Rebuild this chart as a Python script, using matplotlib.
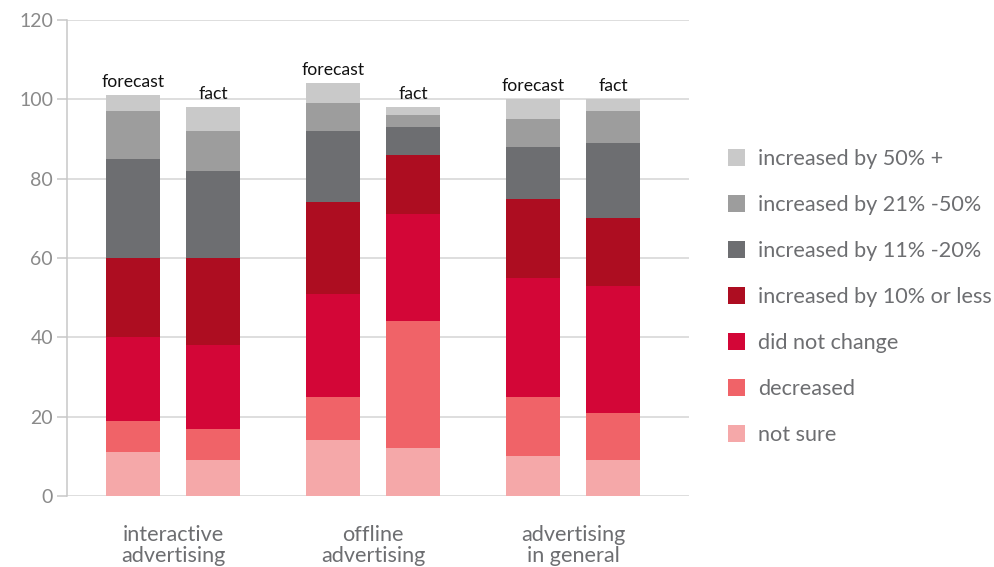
import matplotlib
matplotlib.use("Agg")
import matplotlib.pyplot as plt
from matplotlib.patches import Patch
import numpy as np

plt.rcParams['font.family'] = ['Lato', 'DejaVu Sans']

groups = ["interactive\nadvertising", "offline\nadvertising", "advertising\nin general"]
bar_labels = ["forecast", "fact"]

# stack order, bottom to top
series_names = [
    "not sure",
    "decreased",
    "did not change",
    "increased by 10% or less",
    "increased by 11% -20%",
    "increased by 21% -50%",
    "increased by 50% +",
]
series_colors = ["#f5a8a9", "#f06368", "#d30637", "#ad0d21", "#6d6e71", "#9d9d9d", "#c9c9c9"]

# values per bar: interactive forecast, interactive fact, offline forecast,
# offline fact, general forecast, general fact
not_sure       = [11, 9, 14, 12, 10, 9]
decreased      = [8, 8, 11, 32, 15, 12]
no_change      = [21, 21, 26, 27, 30, 32]
up_10_or_less  = [20, 22, 23, 15, 20, 17]
up_11_20       = [25, 22, 18, 7, 13, 19]
up_21_50       = [12, 10, 7, 3, 7, 8]
up_50_plus     = [4, 6, 5, 2, 5, 3]

series_values = [not_sure, decreased, no_change, up_10_or_less,
                 up_11_20, up_21_50, up_50_plus]

fig = plt.figure(figsize=(9.95, 5.67), dpi=100)
ax = fig.add_axes([67/995, 1 - 496/567, (689 - 67)/995, (496 - 20)/567])

offset = 0.2
width = 0.27
xpos = []
for g in range(len(groups)):
    xpos += [g - offset, g + offset]
xpos = np.array(xpos)

bottom = np.zeros(len(xpos))
for name, vals, col in zip(series_names, series_values, series_colors):
    v = np.array(vals, dtype=float)
    ax.bar(xpos, v, width=width, bottom=bottom, color=col, label=name,
           linewidth=0, zorder=3)
    bottom += v

for i, (x, top) in enumerate(zip(xpos, bottom)):
    ax.annotate(bar_labels[i % 2], (x, top), xytext=(0, 4),
                textcoords="offset points", ha="center", va="bottom",
                fontsize=12.7, color="#111111")

ax.set_ylim(0, 120)
ax.set_xlim(-0.53, 2.58)
ax.set_yticks(range(0, 121, 20))
ax.yaxis.grid(True, color="#d4d4d4", linewidth=1.1, zorder=0)
ax.set_axisbelow(True)
for s in ["top", "right", "bottom"]:
    ax.spines[s].set_visible(False)
ax.spines["left"].set_color("#c8c8c8")
ax.spines["left"].set_linewidth(1.1)
ax.tick_params(axis="y", direction="out", length=7, width=1.1,
               color="#c8c8c8", labelcolor="#8a8a8a", labelsize=14, pad=3)
ax.set_xticks([])

for g, name in enumerate(groups):
    ax.text(g, -0.06, name, transform=ax.get_xaxis_transform(),
            ha="center", va="top", fontsize=15.6, color="#6d6e71",
            linespacing=1.12)

handles = [Patch(facecolor=c, edgecolor="none") for c in series_colors][::-1]
fig.legend(handles, series_names[::-1], loc="upper left",
           bbox_to_anchor=(728/995, 1 - 149/567), frameon=False,
           borderpad=0, borderaxespad=0,
           fontsize=15.6, labelcolor="#6d6e71", handlelength=0.8,
           handleheight=0.8, handletextpad=0.6, labelspacing=1.2)

fig.savefig("out.png", dpi=100)
